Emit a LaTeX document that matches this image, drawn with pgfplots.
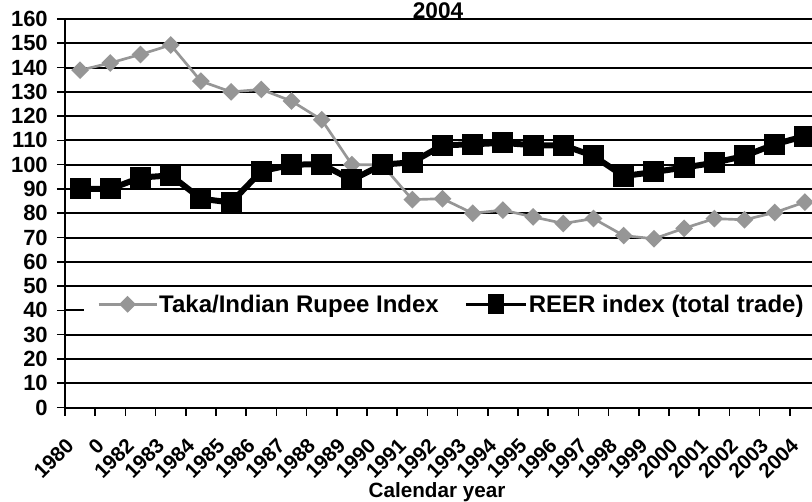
\documentclass[border=0pt]{standalone}
\usepackage{pgfplots}
\pgfplotsset{compat=1.18}
\usepackage{fontspec}
\setmainfont{Liberation Sans}
\definecolor{tgray}{RGB}{150,150,150}
\begin{document}
\begin{tikzpicture}
\useasboundingbox (0pt,0pt) rectangle (609pt,375.75pt);
\clip (0pt,0pt) rectangle (609pt,375.75pt);
\begin{axis}[
  at={(48.75pt,70.125pt)}, anchor=south west,
  scale only axis, width=566.25pt, height=291.375pt,
  xmin=0, xmax=25, ymin=0, ymax=160,
  axis lines=left,
  axis line style={line width=1.5pt, -, black},
  ytick={0,10,...,160},
  ymajorgrids, grid style={black, line width=1.5pt},
  xtick={0,...,25}, xticklabels={},
  extra x ticks={0.5,1.5,...,24.5},
  extra x tick labels={1980,0,1982,1983,1984,1985,1986,1987,1988,1989,1990,1991,1992,1993,1994,1995,1996,1997,1998,1999,2000,2001,2002,2003,2004},
  extra x tick style={major tick length=0pt, tick label style={xshift=-7.5pt, yshift=-26pt, rotate=45, anchor=east, inner sep=0pt, font=\fontsize{15.5}{18}\selectfont\bfseries}},
  tick align=outside, major tick length=6pt,
  tick style={black, line width=1.2pt},
  /pgf/number format/assume math mode=true,
  yticklabel style={font=\fontsize{16.5}{19}\selectfont\bfseries, inner sep=0pt, xshift=-6.75pt},
  legend style={at={(axis cs:0.627,42.5)}, anchor=west, draw=none, fill=white,
    inner xsep=9.75pt, inner ysep=3pt, font=\fontsize{18}{21}\selectfont\bfseries,
    legend columns=2, nodes={inner xsep=0pt, inner ysep=2pt},
    /tikz/every odd column/.append style={column sep=1pt},
    /tikz/every even column/.append style={column sep=19pt}},
]
\addplot[tgray, line width=2pt, mark=square*, mark size=3.7pt, mark options={rotate=45, fill=tgray, draw=tgray},
  legend image code/.code={\draw[tgray, line width=2pt] (0pt,0pt) -- (43.5pt,0pt);
    \fill[tgray] (21.75pt,4.9pt) -- (26.65pt,0pt) -- (21.75pt,-4.9pt) -- (16.85pt,0pt) -- cycle;}]
coordinates {
(0.5,138.9) (1.5,141.9) (2.5,145.4) (3.5,149.3) (4.5,134.4) (5.5,130) (6.5,131) (7.5,126.2)
(8.5,118.5) (9.5,100) (10.5,100) (11.5,85.6) (12.5,86) (13.5,80) (14.5,81.3) (15.5,78.5)
(16.5,75.8) (17.5,77.8) (18.5,70.8) (19.5,69.5) (20.5,73.8) (21.5,77.8) (22.5,77.3) (23.5,80.3) (24.5,84.6)
};
\addlegendentry{Taka/Indian Rupee Index}
\addplot[black, line width=4.5pt, mark=square*, mark size=7.5pt, mark options={fill=black, draw=black, line width=0pt},
  legend image code/.code={\draw[black, line width=2.5pt] (0pt,0pt) -- (45pt,0pt);
    \fill[black] (18.75pt,-5.25pt) rectangle (26.25pt,5.25pt);}]
coordinates {
(0.5,90) (1.5,90) (2.5,94.7) (3.5,95.6) (4.5,86) (5.5,84.4) (6.5,97.3) (7.5,100)
(8.5,100.2) (9.5,93.7) (10.5,100) (11.5,101) (12.5,108) (13.5,108.4) (14.5,109) (15.5,108)
(16.5,108) (17.5,103.6) (18.5,95.3) (19.5,97) (20.5,98.8) (21.5,100.8) (22.5,103.6) (23.5,108.4) (24.5,111.8)
};
\addlegendentry{REER index (total trade)\hspace{20pt}}
\end{axis}
\node[font=\fontsize{17}{20}\selectfont\bfseries, anchor=base] at (328.5pt,362pt) {2004};
\node[font=\fontsize{15.5}{18}\selectfont\bfseries, anchor=base] at (327.75pt,3pt) {Calendar year};
\end{tikzpicture}
\end{document}
